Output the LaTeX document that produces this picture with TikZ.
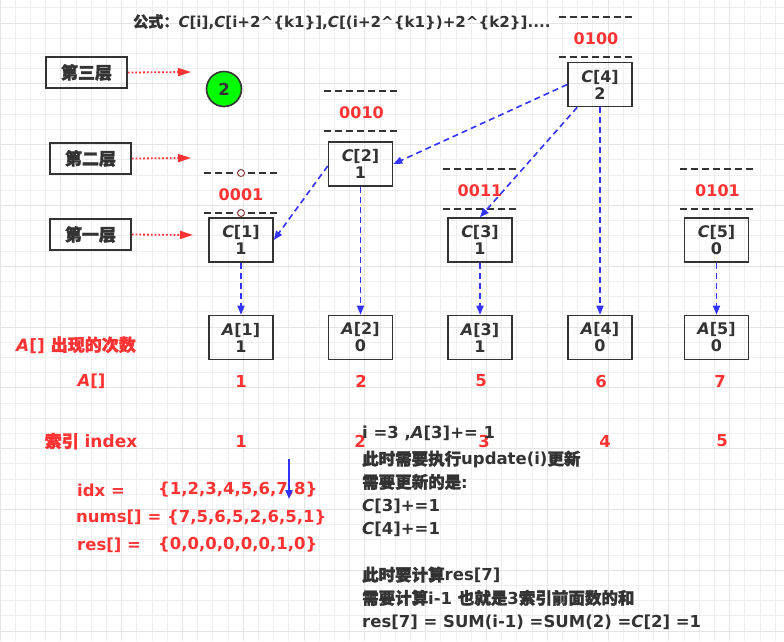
\documentclass[tikz,border=0pt]{standalone}
\usepackage{fontspec}
\setmainfont{DejaVu Sans}
\newfontfamily\cjk{Noto Sans CJK SC}[FakeBold=2]
\usetikzlibrary{arrows.meta,positioning}

\definecolor{redtxt}{HTML}{FF3333}
\definecolor{bluelink}{HTML}{3333FF}
\definecolor{greenball}{HTML}{00FF00}
\definecolor{gridgray}{HTML}{EEEEEE}
\definecolor{gridmid}{HTML}{E4E4E4}
\definecolor{ink}{HTML}{333333}
\definecolor{ringred}{HTML}{8B3A3A}

\tikzset{
  every node/.style={font=\bfseries\fontsize{16.5}{18}\selectfont, text=ink, inner sep=1pt},
  gridline/.style={gridgray, line width=0.7pt},
  gridmajor/.style={gridmid, line width=0.8pt},
  cell/.style={draw=ink, line width=1.6pt, minimum width=64pt, minimum height=44pt,
    inner sep=0pt, align=center, font=\bfseries\fontsize{16}{17}\selectfont},
  layerbox/.style={draw=ink, line width=1.6pt, minimum width=81pt, minimum height=31pt,
    font=\cjk\bfseries\fontsize{17}{18}\selectfont},
  bitline/.style={ink, dash pattern=on 7pt off 4pt, line width=1.6pt},
  bits/.style={text=redtxt, font=\bfseries\fontsize{16}{18}\selectfont},
  link/.style={bluelink, line width=1.6pt, dash pattern=on 6pt off 4pt,
    -{Triangle[length=9pt,width=7pt]}},
  layerarrow/.style={redtxt, line width=1.8pt, dotted, -{Triangle[length=13pt,width=8pt]}},
  redlabel/.style={text=redtxt}
}

\begin{document}
\begin{tikzpicture}[x=1pt,y=-1pt]
  \useasboundingbox (0,0) rectangle (784,641);
  \fill[white] (0,0) rectangle (784,641);

  % 背景网格
  \foreach \k in {0,...,51} \draw[gridline] (\k*15.2,0) -- ++(0,641);
  \foreach \k in {0,...,41} \draw[gridline] (0,7.8+\k*15.2) -- ++(784,0);
  \foreach \k in {0,...,12} \draw[gridmajor] (\k*60.8,0) -- ++(0,641);
  \foreach \k in {0,...,10} \draw[gridmajor] (0,23+\k*60.8) -- ++(784,0);

  % 公式
  \node[anchor=west, font=\bfseries\fontsize{15.1}{18}\selectfont] (formula) at (132,22)
    {{\cjk 公式：}\textit{C}[i],\textit{C}[i+2\^{}\{k1\}],\textit{C}[(i+2\^{}\{k1\})+2\^{}\{k2\}]....};

  % 层
  \node[layerbox] (l3) at (86.5,72.5) {第三层};
  \node[layerbox] (l2) at (90.5,158.5) {第二层};
  \node[layerbox] (l1) at (90.5,234.5) {第一层};
  \coordinate (t3) at (191,72);
  \coordinate (t2) at (191,158);
  \coordinate (t1) at (193,235);
  \draw[layerarrow] (l3.east) -- (t3);
  \draw[layerarrow] (l2.east) -- (t2);
  \draw[layerarrow] (l1.east) -- (t1);

  \node[circle, draw=ink, line width=1.6pt, fill=greenball, minimum size=35pt,
    inner sep=0pt] (ball) at (224,89) {2};

  % C[] 树状数组
  \node[cell] (c1) at (241,240) {\textit{C}[1]\\1};
  \node[cell] (c2) at (360.5,164) {\textit{C}[2]\\1};
  \node[cell] (c3) at (480,240) {\textit{C}[3]\\1};
  \node[cell] (c4) at (600,84.5) {\textit{C}[4]\\2};
  \node[cell] (c5) at (716.5,240) {\textit{C}[5]\\0};

  % A[] 原数组
  \node[cell] (a1) at (241,337.5) {\textit{A}[1]\\1};
  \node[cell] (a2) at (360.5,337.5) {\textit{A}[2]\\0};
  \node[cell] (a3) at (480,337.5) {\textit{A}[3]\\1};
  \node[cell] (a4) at (600,337.5) {\textit{A}[4]\\0};
  \node[cell] (a5) at (716.5,337.5) {\textit{A}[5]\\0};

  % 二进制
  \foreach \n/\b/\x/\y in {c1/0001/241/213, c2/0010/361.5/131, c3/0011/480/209,
                           c4/0100/596/57, c5/0101/717.5/209} {
    \draw[bitline] (\x-37.5,\y-40) -- ++(75,0);
    \draw[bitline] (\x-37.5,\y) -- ++(75,0);
    \node[bits] (b\n) at (\x,\y-18.5) {\b};
  }
  \draw[ringred, fill=white, line width=1pt] (241,173) circle (3.5);
  \draw[ringred, fill=white, line width=1pt] (241,213) circle (3.5);

  % 连线
  \draw[link] (c4.west) -- (c2.east);
  \draw[link] ([xshift=10pt]c4.south west) -- (c3.north);
  \draw[link] ([yshift=-2pt]c2.west) -- (c1.east);
  \foreach \i in {1,...,5} \draw[link] (c\i.south) -- (a\i.north);

  % 左侧说明
  \node[redlabel, anchor=west, font=\bfseries\fontsize{17}{18}\selectfont] (occ) at (15,345)
    {\textit{A}[] {\cjk 出现的次数}};
  \node[redlabel] (arow) at (91.5,381) {\textit{A}[]};
  \node[redlabel, font=\bfseries\fontsize{17}{18}\selectfont] (idxrow) at (91,441)
    {{\cjk 索引} index};
  \foreach \x/\v/\k in {241/1/1, 361/2/2, 481/5/3, 601/6/4, 720/7/5}
    \node[redlabel] (v\k) at (\x,381) {\v};
  \foreach \x/\k in {241/1, 360/2, 484/3, 605/4, 722/5}
    \node[redlabel] (i\k) at (\x,441) {\k};

  % 数组
  \node[redlabel, anchor=west] (idxname) at (76,490) {idx =};
  \node[redlabel, anchor=west] (idxval) at (157,490) {\{1,2,3,4,5,6,7,8\}};
  \node[redlabel, anchor=west] (nums) at (75,518) {nums[] = \{7,5,6,5,2,6,5,1\}};
  \node[redlabel, anchor=west] (resname) at (76,545) {res[] =};
  \node[redlabel, anchor=west] (resval) at (157,545) {\{0,0,0,0,0,0,1,0\}};
  \coordinate (p0) at (289,459);
  \coordinate (p1) at (289,499);
  \draw[bluelink, line width=1.6pt, -{Triangle[length=9pt,width=7pt]}] (p0) -- (p1);

  % 说明文字
  \node[anchor=north west, align=left, inner sep=0pt,
    font=\bfseries\fontsize{16.5}{23.2}\selectfont] (note) at (362,426)
    {i =3 ,\textit{A}[3]+= 1\\[3pt]
     {\cjk 此时需要执行}update(i){\cjk 更新}\\
     {\cjk 需要更新的是}:\\
     \textit{C}[3]+=1\\
     \textit{C}[4]+=1\\[23.2pt]
     {\cjk 此时要计算}res[7]\\
     {\cjk 需要计算}i-1 {\cjk 也就是}3{\cjk 索引前面数的和}\\
     res[7] = SUM(i-1) =SUM(2) =\textit{C}[2] =1};
\end{tikzpicture}
\end{document}
